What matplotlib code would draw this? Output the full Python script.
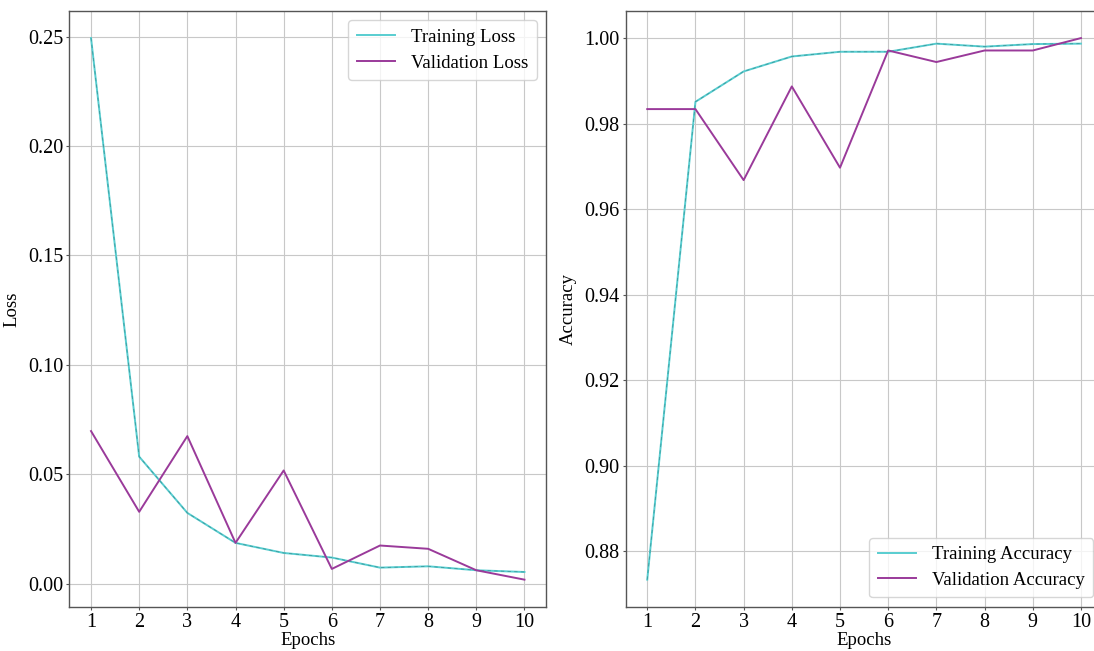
import matplotlib
matplotlib.use("Agg")
import matplotlib.pyplot as plt

epochs = [1, 2, 3, 4, 5, 6, 7, 8, 9, 10]
train_loss = [0.2493, 0.0580, 0.0323, 0.0186, 0.0140, 0.0119, 0.0073, 0.0079, 0.0061, 0.0053]
val_loss = [0.0697, 0.0328, 0.0674, 0.0186, 0.0517, 0.0067, 0.0174, 0.0159, 0.0061, 0.0018]
train_acc = [0.8734, 0.9851, 0.9922, 0.9957, 0.9968, 0.9968, 0.9987, 0.9980, 0.9986, 0.9987]
val_acc = [0.9834, 0.9834, 0.9668, 0.9887, 0.9697, 0.9971, 0.9944, 0.9971, 0.9971, 1.0000]

plt.rcParams['font.family'] = ['Liberation Serif', 'DejaVu Serif']

TRAIN_C = '#58CDD0'
TRAIN_D = '#2F8688'
VAL_C = '#9A3A9A'

fig = plt.figure(figsize=(10.94, 6.51), dpi=100)
ax1 = fig.add_axes([0.0634, 0.0680, 0.4358, 0.9151])
ax2 = fig.add_axes([0.5718, 0.0680, 0.4361, 0.9151])

def style(ax, ylabel):
    ax.grid(True, color='#c8c8c8', linewidth=0.8)
    ax.set_axisbelow(True)
    for s in ax.spines.values():
        s.set_color('#555555')
        s.set_linewidth(1.0)
    ax.tick_params(labelsize=14.5, color='#555555', length=2.5, pad=2)
    ax.set_xticks(epochs)
    ax.set_xlabel('Epochs', fontsize=13.5, labelpad=0)
    ax.set_ylabel(ylabel, fontsize=13.5, labelpad=5)

leg_kw = dict(fontsize=13.5, handlelength=2.05, handletextpad=0.85, borderpad=0.45, labelspacing=0.45)

ax1.plot(epochs, train_loss, color=TRAIN_C, lw=1.4, label='Training Loss')
ax1.plot(epochs, train_loss, color=TRAIN_D, lw=0.6, ls=(0, (4, 4)), alpha=0.7)
ax1.plot(epochs, val_loss, color=VAL_C, lw=1.4, label='Validation Loss')
style(ax1, 'Loss')
ax1.set_yticks([0.00, 0.05, 0.10, 0.15, 0.20, 0.25])
ax1.legend(loc='upper right', **leg_kw)

ax2.plot(epochs, train_acc, color=TRAIN_C, lw=1.4, label='Training Accuracy')
ax2.plot(epochs, train_acc, color=TRAIN_D, lw=0.6, ls=(0, (4, 4)), alpha=0.7)
ax2.plot(epochs, val_acc, color=VAL_C, lw=1.4, label='Validation Accuracy')
style(ax2, 'Accuracy')
ax2.set_yticks([0.88, 0.90, 0.92, 0.94, 0.96, 0.98, 1.00])
ax2.set_xlim(0.55, 10.45)
ax2.legend(loc='lower right', **leg_kw)

fig.savefig('out.png', dpi=100)
